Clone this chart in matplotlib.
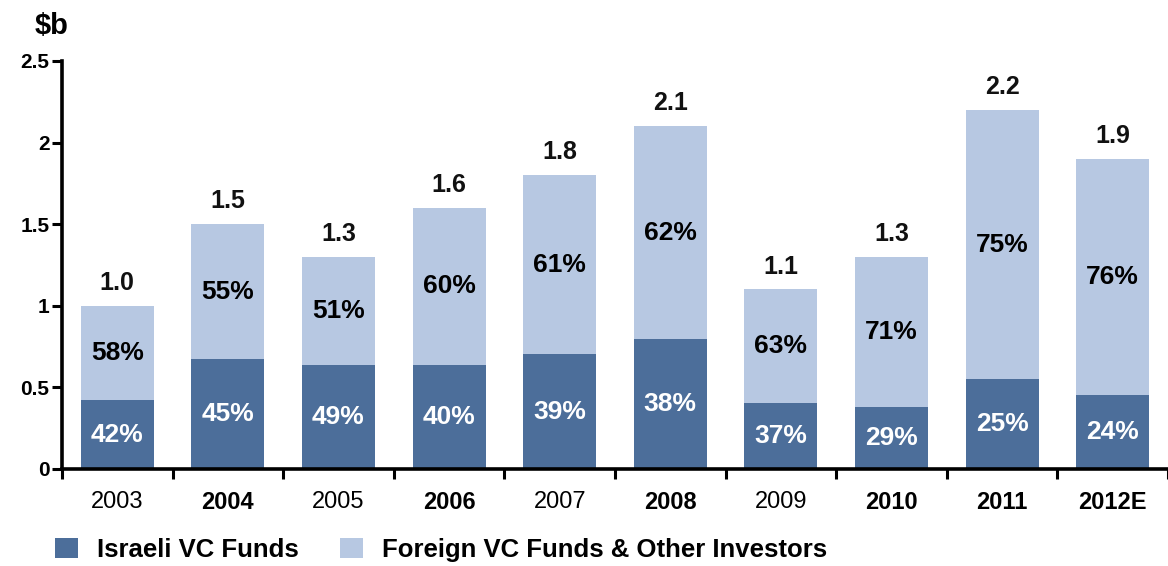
import matplotlib
matplotlib.use("Agg")
import matplotlib.pyplot as plt
import numpy as np

# Venture capital raised by Israeli high-tech companies, $ billions
years = ["2003", "2004", "2005", "2006", "2007", "2008", "2009", "2010", "2011", "2012E"]
totals = [1.0, 1.5, 1.3, 1.6, 1.8, 2.1, 1.1, 1.3, 2.2, 1.9]
israeli_pct = [42, 45, 49, 40, 39, 38, 37, 29, 25, 24]
foreign_pct = [58, 55, 51, 60, 61, 62, 63, 71, 75, 76]
year_bold = [False, True, False, True, False, True, False, True, True, True]

dark_blue = "#4c6e9a"
light_blue = "#b7c8e2"

plt.rcParams["font.family"] = ["Liberation Sans", "DejaVu Sans"]

israeli = [t * p / 100 for t, p in zip(totals, israeli_pct)]
foreign = [t - v for t, v in zip(totals, israeli)]

W, H = 1168, 566
fig = plt.figure(figsize=(W / 100, H / 100), dpi=100)
ax = fig.add_axes([62 / W, 1 - 469 / H, (W - 62) / W, (469 - 61) / H])

x = np.arange(len(years))
bw = 0.66
b1 = ax.bar(x, israeli, bw, color=dark_blue, label="Israeli VC Funds", zorder=2)
b2 = ax.bar(x, foreign, bw, bottom=israeli, color=light_blue,
            label="Foreign VC Funds & Other Investors", zorder=2)

for i in range(len(years)):
    ax.text(x[i], israeli[i] / 2, f"{israeli_pct[i]}%", ha="center", va="center",
            color="white", fontsize=19, fontweight="bold", zorder=3)
    ax.text(x[i], israeli[i] + foreign[i] / 2, f"{foreign_pct[i]}%", ha="center",
            va="center", color="black", fontsize=19, fontweight="bold", zorder=3)
    ax.annotate(f"{totals[i]:.1f}", (x[i], totals[i]), xytext=(0, 16.5),
                textcoords="offset points", ha="center", va="center",
                fontsize=18, fontweight="bold", color="#111111")

ax.set_xlim(-0.5, (W - 62) / ((W - 62 + 11) / 10) - 0.5 + 0.0)
ax.set_xlim(-0.5, -0.5 + (W - 62) / 111.7)
ax.set_ylim(0, 2.5)
ax.set_yticks([0, 0.5, 1, 1.5, 2, 2.5])
ax.set_yticklabels(["0", "0.5", "1", "1.5", "2", "2.5"])

ax.set_xticks(x)
ax.set_xticklabels(years)
for lbl, bold in zip(ax.get_xticklabels(), year_bold):
    lbl.set_fontweight("bold" if bold else "normal")
    lbl.set_fontsize(17)
ax.set_xticks(np.arange(-0.5, len(years), 1.0), minor=True)
ax.tick_params(axis="x", which="major", length=0, pad=16)
ax.tick_params(axis="x", which="minor", length=7, width=2.2, direction="out")
ax.tick_params(axis="y", length=7, width=2.2, direction="out", pad=2)
for lbl in ax.get_yticklabels():
    lbl.set_fontsize(15)
    lbl.set_fontweight("bold")

for s in ["top", "right"]:
    ax.spines[s].set_visible(False)
for s in ["left", "bottom"]:
    ax.spines[s].set_linewidth(2.6)
    ax.spines[s].set_zorder(4)

fig.text(52 / W, 1 - 26 / H, "$b", ha="center", va="center", fontsize=21,
         fontweight="bold")

fig.legend(handles=[b1, b2], loc="center left", bbox_to_anchor=(55 / W, 1 - 550 / H),
           ncol=2, frameon=False, fontsize=18.5, prop={"weight": "bold", "size": 18.5},
           handlelength=0.9, handleheight=0.8, handletextpad=0.74, columnspacing=1.6,
           borderpad=0, borderaxespad=0)

fig.savefig("out.png", dpi=100)
